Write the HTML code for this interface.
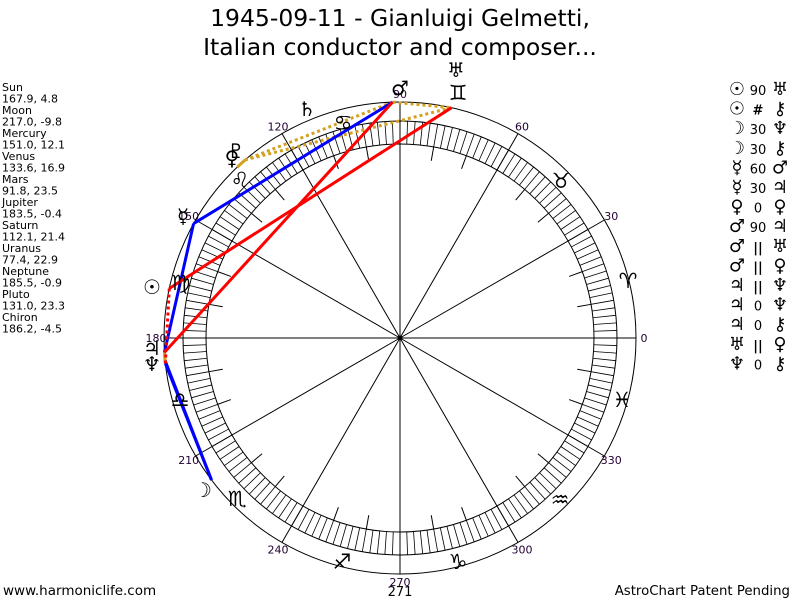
<!DOCTYPE html>
<html><head><meta charset="utf-8">
<style>
html,body{margin:0;padding:0;background:#fff;}
body{width:800px;height:600px;overflow:hidden;position:relative;font-family:"DejaVu Sans","Liberation Sans",sans-serif;}
svg{position:absolute;left:0;top:0;}
</style></head><body>
<svg id="s" width="800" height="600" xmlns="http://www.w3.org/2000/svg" font-family="DejaVu Sans, Liberation Sans, sans-serif">
<text x="400" y="26" font-size="23.5" text-anchor="middle">1945-09-11 - Gianluigi Gelmetti,</text>
<text x="400" y="55" font-size="23.5" text-anchor="middle">Italian conductor and composer...</text>
<g font-size="11" fill="#000">
<text x="2" y="91">Sun</text><text x="2" y="102.5">167.9, 4.8</text>
<text x="2" y="114">Moon</text><text x="2" y="125.5">217.0, -9.8</text>
<text x="2" y="137">Mercury</text><text x="2" y="148.5">151.0, 12.1</text>
<text x="2" y="160">Venus</text><text x="2" y="171.5">133.6, 16.9</text>
<text x="2" y="183">Mars</text><text x="2" y="194.5">91.8, 23.5</text>
<text x="2" y="206">Jupiter</text><text x="2" y="217.5">183.5, -0.4</text>
<text x="2" y="229">Saturn</text><text x="2" y="240.5">112.1, 21.4</text>
<text x="2" y="252">Uranus</text><text x="2" y="263.5">77.4, 22.9</text>
<text x="2" y="275">Neptune</text><text x="2" y="286.5">185.5, -0.9</text>
<text x="2" y="298">Pluto</text><text x="2" y="309.5">131.0, 23.3</text>
<text x="2" y="321">Chiron</text><text x="2" y="332.5">186.2, -4.5</text>
</g>
<text x="3" y="595" font-size="13.5">www.harmoniclife.com</text>
<text x="790" y="595" font-size="13.3" text-anchor="end">AstroChart Patent Pending</text>
<g id="g"></g>
</svg>
<script>
var g=document.getElementById('g'),cx=400,cy=338;
function P(a,r){a=a*Math.PI/180;return [cx+r*Math.cos(a),cy-r*Math.sin(a)];}
var h='';
h+='<circle cx="400" cy="338" r="236" fill="none" stroke="#000" stroke-width="1"/>';
h+='<circle cx="400" cy="338" r="217" fill="none" stroke="#000" stroke-width="1"/>';
h+='<circle cx="400" cy="338" r="194" fill="none" stroke="#000" stroke-width="1"/>';
for(var a=0;a<360;a+=2){var p=P(a,194),q=P(a,217);h+='<line x1="'+p[0]+'" y1="'+p[1]+'" x2="'+q[0]+'" y2="'+q[1]+'" stroke="#000" stroke-width="0.8"/>';}
for(var a=0;a<360;a+=10){if(a%30==0){var p=P(a,236);h+='<line x1="400" y1="338" x2="'+p[0]+'" y2="'+p[1]+'" stroke="#000" stroke-width="1"/>';}else{var p=P(a,180),q=P(a,194);h+='<line x1="'+p[0]+'" y1="'+p[1]+'" x2="'+q[0]+'" y2="'+q[1]+'" stroke="#000" stroke-width="1"/>';}}
h+='<circle cx="400" cy="338" r="2.5" fill="#000"/>';
for(var a=0;a<360;a+=30){var p=P(a,244);h+='<text x="'+p[0]+'" y="'+(p[1]+4)+'" font-size="11" text-anchor="middle" fill="#203">'+a+'</text>';}
h+='<text x="400" y="596" font-size="13" text-anchor="middle">271</text>';
var L={Sun:167.9,Moon:217,Mer:151,Ven:133.6,Mar:91.8,Jup:183.5,Ura:77.4,Nep:185.5,Plu:131,Chi:186.2};
function ln(a,b,c,d){var p=P(L[a],236),q=P(L[b],236);h+='<line x1="'+p[0]+'" y1="'+p[1]+'" x2="'+q[0]+'" y2="'+q[1]+'" stroke="'+c+'" stroke-width="3"'+(d?' stroke-dasharray="3,3"':'')+'/>';}
ln('Mar','Ura','#d4a020',1);ln('Mar','Plu','#d4a020',1);ln('Ura','Plu','#d4a020',1);ln('Jup','Nep','#d4a020',1);
ln('Ven','Plu','#d4a020');ln('Jup','Nep','#d4a020');ln('Jup','Chi','#d4a020');ln('Nep','Chi','#d4a020');
ln('Moon','Nep','#0000ff');ln('Moon','Chi','#0000ff');ln('Mer','Mar','#0000ff');ln('Mer','Jup','#0000ff');
ln('Sun','Ura','#ff0000');ln('Mar','Jup','#ff0000');ln('Sun','Chi','#ff0000',1);
var Z=[['♈',628,281],['♉',561,181],['♊',458,93],['♋',343,123],['♌',240,180],['♍',181,283],['♎',180,400],['♏',237,499],['♐',342,562],['♑',458,562],['♒',560,500],['♓',622,400]];
Z.forEach(function(z){h+='<text x="'+z[1]+'" y="'+(z[2]+7)+'" font-size="21" font-weight="bold" text-anchor="middle">'+z[0]+'</text>';});
var G=[['♂',400,88],['♅',456,70],['♄',307,109],['♇',236,151],['♀',232,158],['☿',183,216],['☉',152,287],['♃',152,348],['♆',152,364],['☽',203,490]];
G.forEach(function(z){h+='<text x="'+z[1]+'" y="'+(z[2]+7)+'" font-size="20" font-weight="bold" text-anchor="middle">'+z[0]+'</text>';});
var A=[['☉','90','♅'],['☉','#','⚷'],['☽','30','♆'],['☽','30','⚷'],['☿','60','♂'],['☿','30','♃'],['♀','0','♀'],['♂','90','♃'],['♂','||','♅'],['♂','||','♀'],['♃','||','♆'],['♃','0','♆'],['♃','0','⚷'],['♅','||','♀'],['♆','0','⚷']];
A.forEach(function(r,i){var y=95+i*19.6;h+='<text x="737" y="'+y+'" font-size="18" font-weight="bold" text-anchor="middle">'+r[0]+'</text>';h+='<text x="758" y="'+y+'" font-size="13" text-anchor="middle" font-weight="'+(r[1]=='||'||r[1]=='#'?'bold':'normal')+'">'+r[1]+'</text>';h+='<text x="780" y="'+y+'" font-size="18" text-anchor="middle">'+r[2]+'</text>';});
g.innerHTML=h;
</script>
</body></html>
